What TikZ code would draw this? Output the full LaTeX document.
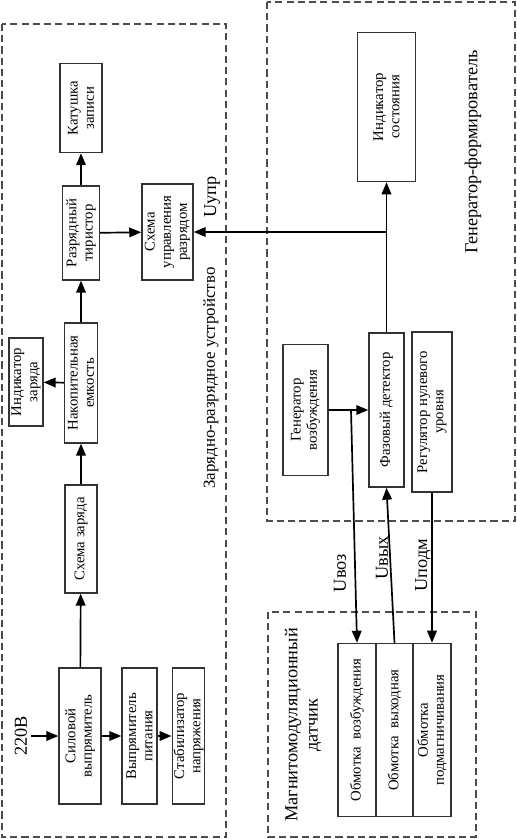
\documentclass[tikz,border=0pt]{standalone}
\usepackage{fontspec}
\setmainfont{Liberation Serif}
\usetikzlibrary{arrows.meta,positioning}
\tikzset{
  blk/.style={draw=black!80, line width=0.9pt, rotate=90, align=center, inner sep=1pt,
    font=\fontsize{10.5}{11.5}\selectfont},
  grp/.style={draw=black!70, dash pattern=on 5pt off 3pt, line width=0.9pt},
  arr/.style={-{Triangle[length=3mm,width=2.4mm]}, line width=1.2pt},
  ln/.style={line width=1.2pt},
  lbl/.style={rotate=90, align=center, font=\fontsize{13}{14.5}\selectfont},
}

\begin{document}
\begin{tikzpicture}[x=0.025cm, y=-0.025cm]
  \useasboundingbox (0,0) rectangle (516,839);
  % dashed groups
  \draw[grp] (2,24) rectangle (226,837);
  \draw[grp] (267,2) rectangle (515,521);
  \draw[grp] (268,612) rectangle (476,837);
  \node[lbl, font=\fontsize{12}{14}\selectfont] (zru) at (211,378) {Зарядно-разрядное устройство};
  \node[lbl] (gf) at (473,152) {Генератор-формирователь};
  \node[lbl] (mmd) at (303,725) {Магнитомодуляционный\\датчик};

  % charge / discharge unit
  \node[blk, minimum width=2.23cm, minimum height=1.05cm] (kz) at (81,108) {Катушка\\записи};
  \node[blk, minimum width=2.35cm, minimum height=0.93cm] (rt) at (81,233) {Разрядный\\тиристор};
  \node[blk, minimum width=2.4cm, minimum height=1.28cm] (sur) at (167.5,232) {Схема\\управления\\разрядом};
  \node[blk, minimum width=3cm, minimum height=0.83cm] (ne) at (81,383) {Накопительная\\емкость};
  \node[blk, minimum width=2.2cm, minimum height=0.85cm] (iz) at (26,382) {Индикатор\\заряда};
  \node[blk, minimum width=2.7cm, minimum height=0.8cm] (sz) at (81,539) {Схема заряда};
  \node[blk, minimum width=3.4cm, minimum height=1.05cm] (sv) at (80,736) {Силовой\\выпрямитель};
  \node[blk, minimum width=3.4cm, minimum height=0.88cm] (vp) at (139.5,736) {Выпрямитель\\питания};
  \node[blk, minimum width=3.4cm, minimum height=0.78cm] (sn) at (188.5,736) {Стабилизатор\\напряжения};
  \node[lbl] (v220) at (21,736) {220В};
  \coordinate (in) at (31,736);

  % generator
  \node[blk, minimum width=3.73cm, minimum height=1.45cm] (ind) at (386.5,107) {Индикатор\\состояния};
  \node[blk, minimum width=3.28cm, minimum height=1.13cm] (gv) at (305.5,410) {Генератор\\возбуждения};
  \node[blk, minimum width=3.85cm, minimum height=0.88cm] (fd) at (386.5,410) {Фазовый детектор};
  \node[blk, minimum width=4cm, minimum height=1cm] (reg) at (432,412) {Регулятор нулевого\\уровня};

  % sensor
  \node[blk, minimum width=4.33cm, minimum height=0.95cm] (ov) at (357,730) {Обмотка\ \ возбуждения};
  \node[blk, minimum width=4.33cm, minimum height=0.93cm] (ovy) at (394.5,730) {Обмотка\ \ выходная};
  \node[blk, minimum width=4.33cm, minimum height=0.95cm] (op) at (432,730) {Обмотка\\подмагничивания};

  % signal labels
  \node[lbl] (uupr) at (212,197) {Uупр};
  \node[lbl] (uvoz) at (340,573) {Uвоз};
  \node[lbl] (uvyh) at (382,558) {Uвых};
  \node[lbl] (upodm) at (423,565) {Uподм};

  \coordinate (j1) at (386.5,232);
  \coordinate (j2) at (351,410);

  \draw[arr] (in) -- (sv);
  \draw[arr] (sv) -- (vp);
  \draw[arr] (vp) -- (sn);
  \draw[arr] (sv) -- (sz);
  \draw[arr] (sz) -- (ne);
  \draw[arr] (ne) -- (iz);
  \draw[arr] (ne) -- (rt);
  \draw[arr] (rt) -- (kz);
  \draw[arr] (rt) -- (sur);
  \draw[arr] (gv) -- (fd);
  \draw[ln] (fd) -- (j1);
  \draw[arr] (j1) -- (ind);
  \draw[arr] (j1) -- (sur);
  \draw[arr] (j2) -- (ov.east);
  \draw[arr] (ovy.east) -- (fd.west);
  \draw[arr] (reg.west) -- (op.east);
\end{tikzpicture}
\end{document}
